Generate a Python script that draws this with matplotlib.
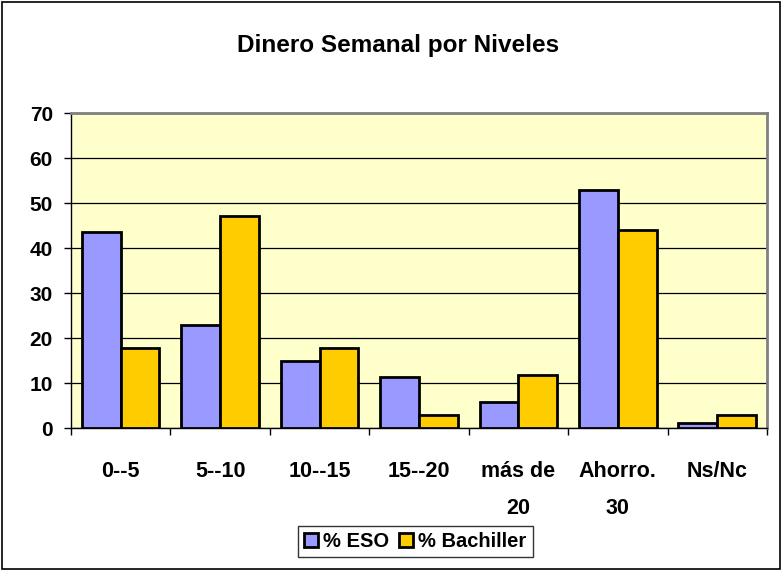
import numpy as np
import matplotlib
matplotlib.use("Agg")
import matplotlib.pyplot as plt
from matplotlib.patches import Rectangle

plt.rcParams["font.family"] = ["Liberation Sans", "DejaVu Sans"]

# data
categorias = ["0--5", "5--10", "10--15", "15--20", "más de\n20", "Ahorro.\n30", "Ns/Nc"]
eso = [43.6, 23.0, 14.8, 11.4, 5.8, 52.9, 1.2]
bachiller = [17.7, 47.1, 17.7, 2.9, 11.8, 44.1, 2.9]
series_names = ["% ESO", "% Bachiller"]
yticks = [0, 10, 20, 30, 40, 50, 60, 70]

fig = plt.figure(figsize=(7.82, 5.71), dpi=100)
ax = fig.add_axes([0.0908, 0.2504, 0.8900, 0.5517])
ax.set_facecolor("#FFFFCC")

x = np.arange(len(categorias))
w = 0.39
ax.bar(x - w/2, eso, w, color="#9999FF", edgecolor="black", linewidth=2,
       label=series_names[0], zorder=3)
ax.bar(x + w/2, bachiller, w, color="#FFCC00", edgecolor="black", linewidth=2,
       label=series_names[1], zorder=3)

ax.set_xlim(-0.5, len(categorias) - 0.5)
ax.set_ylim(0, 70)
ax.set_yticks(yticks)
ax.set_yticklabels([str(v) for v in yticks], fontsize=15, fontweight="bold")
ax.yaxis.grid(True, color="black", linewidth=0.9, zorder=1)
ax.set_axisbelow(True)

# category boundary ticks, labels centred in between
ax.set_xticks(np.arange(len(categorias) + 1) - 0.5)
ax.set_xticklabels([])
ax.set_xticks(x, minor=True)
ax.set_xticklabels(categorias, minor=True, fontsize=15.5, fontweight="bold",
                   linespacing=1.95, va="top")
ax.tick_params(axis="x", which="minor", length=0, pad=24)
ax.tick_params(axis="x", which="major", length=5, width=1, direction="out")
ax.tick_params(axis="y", length=5, width=1, direction="out", pad=8)

for s in ["top", "right"]:
    ax.spines[s].set_color("#808080")
    ax.spines[s].set_linewidth(2)
for s in ["left", "bottom"]:
    ax.spines[s].set_color("black")
    ax.spines[s].set_linewidth(1)

fig.text(0.509, 0.921, "Dinero Semanal por Niveles", ha="center", va="center",
         fontsize=17.5, fontweight="bold")

leg = fig.legend(loc="center", bbox_to_anchor=(0.531, 0.052), ncol=2,
                 frameon=True, fancybox=False, edgecolor="black",
                 prop={"size": 14.5, "weight": "bold"},
                 handlelength=0.7, handleheight=0.7, handletextpad=0.25,
                 columnspacing=0.5, borderpad=0.3)
leg.get_frame().set_linewidth(1)

fig.patches.append(Rectangle((0.003, 0.004), 0.994, 0.992, transform=fig.transFigure,
                             fill=False, edgecolor="black", linewidth=1.2))

fig.savefig("out.png", dpi=100)
